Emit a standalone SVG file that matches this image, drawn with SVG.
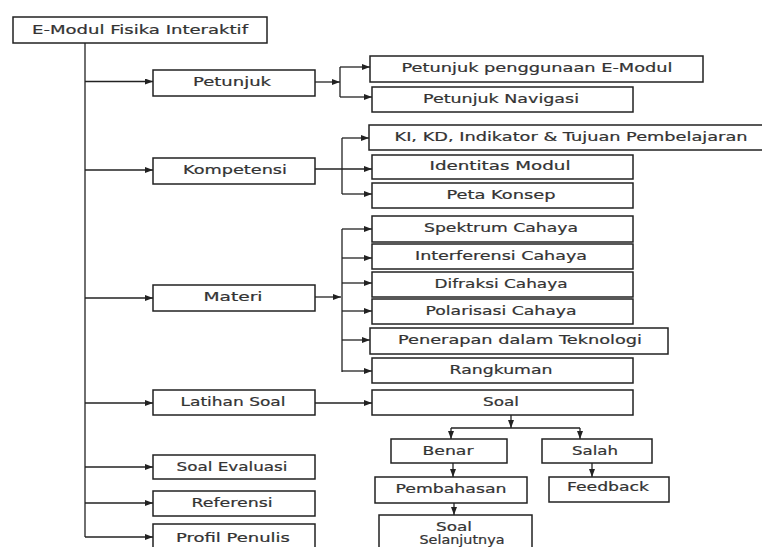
<svg xmlns="http://www.w3.org/2000/svg" width="762" height="547" viewBox="0 0 762 547">
<defs>
<marker id="ah" markerUnits="userSpaceOnUse" markerWidth="9" markerHeight="7" refX="8" refY="3" orient="auto">
<path d="M0,0 L8,3 L0,6 z" fill="#222"/>
</marker>
<style>
.b{fill:#fff;stroke:#222;stroke-width:1.5}
.t{font-family:"DejaVu Sans",Verdana,sans-serif;font-size:12px;fill:#333;text-anchor:middle;stroke:#333;stroke-width:0.2}
.c{fill:none;stroke:#222;stroke-width:1.3}
.a{fill:none;stroke:#222;stroke-width:1.3;marker-end:url(#ah)}
</style>
</defs>
<rect width="762" height="547" fill="#fff"/>
<g id="connectors">
<path class="c" d="M85,43 V537"/>
<path class="a" d="M85,81.5 H153"/>
<path class="a" d="M85,170 H153"/>
<path class="a" d="M85,298 H153"/>
<path class="a" d="M85,403 H153"/>
<path class="a" d="M85,467 H153"/>
<path class="a" d="M85,503 H153"/>
<path class="a" d="M85,537 H153"/>
<path class="a" d="M315,82 H340"/>
<path class="c" d="M340,67 V97"/>
<path class="a" d="M340,67 H370"/>
<path class="a" d="M340,97 H372"/>
<path class="c" d="M342,138 V194"/>
<path class="a" d="M342,138 H369"/>
<path class="a" d="M315,169 H372"/>
<path class="a" d="M342,194 H372"/>
<path class="a" d="M315,297 H341"/>
<path class="c" d="M342,229 V372"/>
<path class="a" d="M342,229 H372"/>
<path class="a" d="M342,258 H372"/>
<path class="a" d="M342,283 H372"/>
<path class="a" d="M342,311 H372"/>
<path class="a" d="M342,340 H370"/>
<path class="a" d="M342,371 H372"/>
<path class="a" d="M315,403 H372"/>
<path class="a" d="M511,415 V428"/>
<path class="c" d="M451,428 H580"/>
<path class="a" d="M451,428 V439"/>
<path class="a" d="M580,428 V439"/>
<path class="a" d="M453,463 V477"/>
<path class="a" d="M592,463 V477"/>
<path class="a" d="M454,503 V515"/>
</g>
<g id="root"><rect class="b" x="13" y="17" width="254" height="26"/><text class="t" x="140" y="34" textLength="216" lengthAdjust="spacingAndGlyphs">E-Modul Fisika Interaktif</text></g>
<g id="petunjuk"><rect class="b" x="153" y="70" width="162" height="26"/><text class="t" x="232" y="86" textLength="78" lengthAdjust="spacingAndGlyphs">Petunjuk</text></g>
<g id="kompetensi"><rect class="b" x="153" y="158" width="162" height="26"/><text class="t" x="235" y="174" textLength="104" lengthAdjust="spacingAndGlyphs">Kompetensi</text></g>
<g id="materi"><rect class="b" x="153" y="285" width="162" height="26"/><text class="t" x="233" y="301" textLength="59" lengthAdjust="spacingAndGlyphs">Materi</text></g>
<g id="latihan-soal"><rect class="b" x="153" y="390" width="162" height="25"/><text class="t" x="233" y="406" textLength="105" lengthAdjust="spacingAndGlyphs">Latihan Soal</text></g>
<g id="soal-evaluasi"><rect class="b" x="153" y="455" width="162" height="24"/><text class="t" x="232" y="471" textLength="111" lengthAdjust="spacingAndGlyphs">Soal Evaluasi</text></g>
<g id="referensi"><rect class="b" x="153" y="491" width="162" height="25"/><text class="t" x="232" y="507" textLength="81" lengthAdjust="spacingAndGlyphs">Referensi</text></g>
<g id="profil-penulis"><rect class="b" x="153" y="524" width="162" height="32"/><text class="t" x="233" y="542" textLength="114" lengthAdjust="spacingAndGlyphs">Profil Penulis</text></g>
<g id="petunjuk-penggunaan"><rect class="b" x="370" y="56" width="333" height="26"/><text class="t" x="537" y="72" textLength="271" lengthAdjust="spacingAndGlyphs">Petunjuk penggunaan E-Modul</text></g>
<g id="petunjuk-navigasi"><rect class="b" x="372" y="87" width="261" height="25"/><text class="t" x="501" y="103" textLength="156" lengthAdjust="spacingAndGlyphs">Petunjuk Navigasi</text></g>
<g id="ki-kd"><rect class="b" x="369" y="125" width="400" height="25"/><text class="t" x="571" y="141" textLength="353" lengthAdjust="spacingAndGlyphs">KI, KD, Indikator &amp; Tujuan Pembelajaran</text></g>
<g id="identitas-modul"><rect class="b" x="372" y="155" width="261" height="24"/><text class="t" x="500" y="170" textLength="141" lengthAdjust="spacingAndGlyphs">Identitas Modul</text></g>
<g id="peta-konsep"><rect class="b" x="372" y="183" width="261" height="25"/><text class="t" x="501" y="199" textLength="109" lengthAdjust="spacingAndGlyphs">Peta Konsep</text></g>
<g id="spektrum"><rect class="b" x="372" y="216" width="261" height="26"/><text class="t" x="501" y="232" textLength="154" lengthAdjust="spacingAndGlyphs">Spektrum Cahaya</text></g>
<g id="interferensi"><rect class="b" x="372" y="244" width="261" height="25"/><text class="t" x="501" y="260" textLength="172" lengthAdjust="spacingAndGlyphs">Interferensi Cahaya</text></g>
<g id="difraksi"><rect class="b" x="372" y="272" width="261" height="25"/><text class="t" x="501" y="288" textLength="133" lengthAdjust="spacingAndGlyphs">Difraksi Cahaya</text></g>
<g id="polarisasi"><rect class="b" x="372" y="299" width="261" height="25"/><text class="t" x="501" y="315" textLength="151" lengthAdjust="spacingAndGlyphs">Polarisasi Cahaya</text></g>
<g id="penerapan"><rect class="b" x="370" y="328" width="298" height="26"/><text class="t" x="520" y="344" textLength="244" lengthAdjust="spacingAndGlyphs">Penerapan dalam Teknologi</text></g>
<g id="rangkuman"><rect class="b" x="372" y="358" width="261" height="25"/><text class="t" x="501" y="374" textLength="103" lengthAdjust="spacingAndGlyphs">Rangkuman</text></g>
<g id="soal"><rect class="b" x="372" y="390" width="261" height="25"/><text class="t" x="501" y="406" textLength="36" lengthAdjust="spacingAndGlyphs">Soal</text></g>
<g id="benar"><rect class="b" x="391" y="439" width="116" height="24"/><text class="t" x="448" y="455" textLength="51" lengthAdjust="spacingAndGlyphs">Benar</text></g>
<g id="salah"><rect class="b" x="542" y="439" width="110" height="24"/><text class="t" x="595" y="455" textLength="46" lengthAdjust="spacingAndGlyphs">Salah</text></g>
<g id="pembahasan"><rect class="b" x="375" y="477" width="152" height="26"/><text class="t" x="451" y="493" textLength="111" lengthAdjust="spacingAndGlyphs">Pembahasan</text></g>
<g id="feedback"><rect class="b" x="549" y="477" width="120" height="25"/><text class="t" x="608" y="491" textLength="82" lengthAdjust="spacingAndGlyphs">Feedback</text></g>
<g id="soal-selanjutnya"><rect class="b" x="379" y="515" width="153" height="40"/><text class="t" x="454" y="531" textLength="36" lengthAdjust="spacingAndGlyphs">Soal</text><text class="t" x="462" y="544" textLength="85" lengthAdjust="spacingAndGlyphs">Selanjutnya</text></g>
</svg>
